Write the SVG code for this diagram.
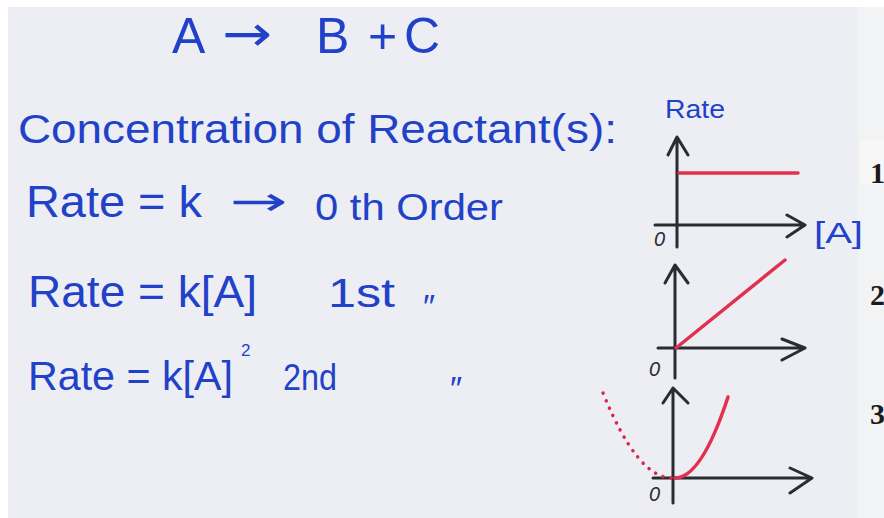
<svg xmlns="http://www.w3.org/2000/svg" width="884" height="518" viewBox="0 0 884 518">
<style>
.hw{font-family:"Liberation Sans",Arial,sans-serif;fill:#2241c9}
.sym{font-family:"DejaVu Sans",sans-serif;fill:#2241c9}
.ax{stroke:#2b2b33;stroke-width:3;fill:none;stroke-linecap:round;stroke-linejoin:round}
.red{stroke:#e3304e;stroke-width:3.5;fill:none;stroke-linecap:round}
.dot{stroke:#d8284a;stroke-width:3.5;fill:none;stroke-linecap:round;stroke-dasharray:0.1 8}
.zero{font-family:"Liberation Sans",Arial,sans-serif;fill:#2b2b33;font-style:italic}
.num{font-family:"Liberation Serif","Times New Roman",serif;font-weight:bold;fill:#1a1a1a;font-size:30px}
</style>
<rect width="884" height="518" fill="#ffffff"/>
<rect x="8" y="7" width="876" height="511" fill="#eceef3"/>
<rect x="858" y="7" width="26" height="511" fill="#f2f3f5"/>
<rect x="860" y="140" width="24" height="44" fill="#f7f7f7"/>

<g id="equation">
<text class="hw" y="53" font-size="50"><tspan x="172">A</tspan></text>
<text class="sym" x="222" y="51" font-size="50" textLength="50" lengthAdjust="spacingAndGlyphs">→</text>
<text class="hw" y="53" font-size="50"><tspan x="316">B</tspan><tspan x="368">+</tspan><tspan x="404">C</tspan></text>
</g>

<g id="heading">
<text class="hw" x="18" y="143" font-size="40" textLength="599" lengthAdjust="spacingAndGlyphs">Concentration of Reactant(s):</text>
</g>

<g id="row-zero">
<text class="hw" x="26" y="217" font-size="44" textLength="176" lengthAdjust="spacingAndGlyphs">Rate = k</text>
<text class="sym" x="230" y="215" font-size="40" textLength="58" lengthAdjust="spacingAndGlyphs">→</text>
<text class="hw" x="315" y="220" font-size="36" textLength="188" lengthAdjust="spacingAndGlyphs">0 th Order</text>
</g>

<g id="row-first">
<text class="hw" x="28" y="307" font-size="44" textLength="229" lengthAdjust="spacingAndGlyphs">Rate = k[A]</text>
<text class="hw" x="328" y="307" font-size="40" textLength="67" lengthAdjust="spacingAndGlyphs">1st</text>
<text class="hw" x="423" y="318" font-size="34">″</text>
</g>

<g id="row-second">
<text class="hw" x="28" y="390" font-size="44" textLength="205" lengthAdjust="spacingAndGlyphs" style="font-size:41px">Rate = k[A]</text>
<text class="hw" x="241" y="356" font-size="17">2</text>
<text class="hw" x="283" y="390" font-size="36" textLength="54" lengthAdjust="spacingAndGlyphs">2nd</text>
<text class="hw" x="450" y="400" font-size="34">″</text>
</g>

<g id="graph-zero">
<text class="hw" x="665" y="118" font-size="26" textLength="60" lengthAdjust="spacingAndGlyphs">Rate</text>
<path class="ax" d="M677 247 V137 M668 155 L677 137 L688 155"/>
<path class="ax" d="M655 225 H805 M787 215 L805 225 L787 237"/>
<path class="red" d="M679 173 H798"/>
<text class="zero" x="654" y="246" font-size="20">0</text>
<text class="hw" x="814" y="243" font-size="30" textLength="49" lengthAdjust="spacingAndGlyphs">[A]</text>
</g>

<g id="graph-first">
<path class="ax" d="M675 378 V265 M665 283 L675 265 L688 283"/>
<path class="ax" d="M658 348 H805 M782 339 L805 348 L782 360"/>
<path class="red" d="M676 348 L785 260"/>
<text class="zero" x="649" y="376" font-size="20">0</text>
</g>

<g id="graph-second">
<path class="ax" d="M673 503 V388 M663 403 L673 388 L688 403"/>
<path class="ax" d="M653 478 H812 M790 468 L812 478 L790 493"/>
<path class="red" d="M675 478 Q701.5 478 728 397"/>
<path class="dot" d="M603 393 Q637.5 478 672 478"/>
<text class="zero" x="649" y="501" font-size="20">0</text>
</g>

<g id="labels">
<text class="num" x="870" y="183">1</text>
<text class="num" x="870" y="305">2</text>
<text class="num" x="870" y="424">3</text>
</g>
</svg>
